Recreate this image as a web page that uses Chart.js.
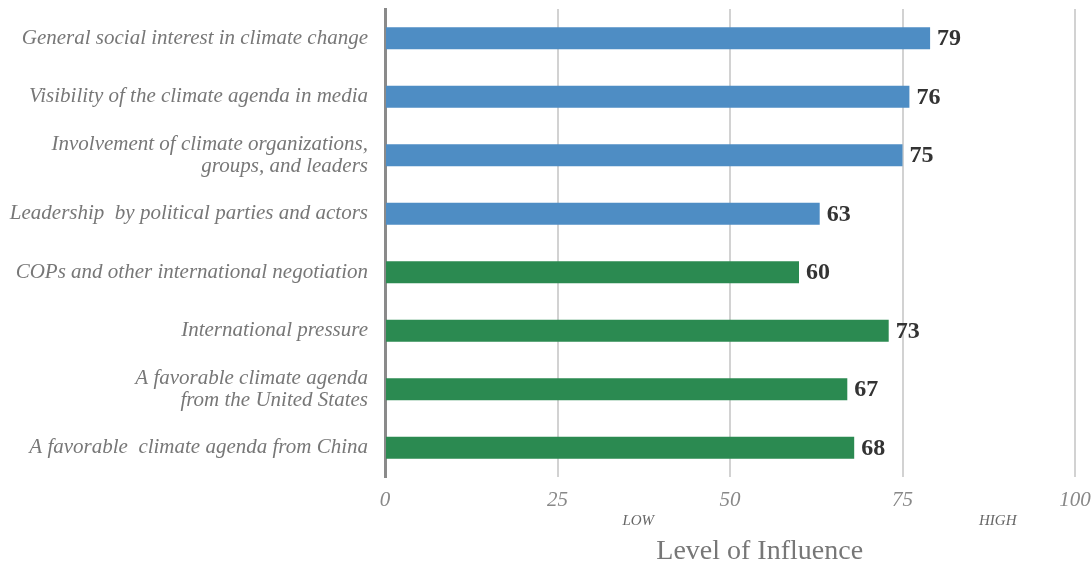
<!DOCTYPE html>
<html>
<head>
<meta charset="utf-8">
<script src="https://cdn.jsdelivr.net/npm/chart.js@4.4.1/dist/chart.umd.min.js"></script>
<style>
  html, body { margin: 0; padding: 0; background: #fff; }
  #wrap { width: 1091px; height: 568px; position: relative; }
</style>
</head>
<body>
<div id="wrap"><canvas id="chart"></canvas></div>
<script>
// --- data ---
const categories = [
    'General social interest in climate change',
    'Visibility of the climate agenda in media',
    ['Involvement of climate organizations,', 'groups, and leaders'],
    'Leadership  by political parties and actors',
    'COPs and other international negotiation',
    'International pressure',
    ['A favorable climate agenda', 'from the United States'],
    'A favorable  climate agenda from China'
];
const influence = [79, 76, 75, 63, 60, 73, 67, 68];
const barColors = ['#4e8dc4', '#4e8dc4', '#4e8dc4', '#4e8dc4', '#2b8a51', '#2b8a51', '#2b8a51', '#2b8a51'];
const xTicks = [0, 25, 50, 75, 100];
const scaleNotes = [{ text: 'LOW', at: 36.7 }, { text: 'HIGH', at: 88.8 }];
const axisTitle = { text: 'Level of Influence', at: 54.3 };

const SERIF = "'Liberation Serif', 'DejaVu Serif', serif";

// value labels at bar ends
const valueLabels = {
    id: 'valueLabels',
    afterDatasetsDraw(chart) {
        const ctx = chart.ctx;
        const meta = chart.getDatasetMeta(0);
        ctx.save();
        ctx.font = "bold 24px " + SERIF;
        ctx.fillStyle = '#333';
        ctx.textAlign = 'left';
        ctx.textBaseline = 'middle';
        meta.data.forEach((bar, i) => {
            ctx.fillText(String(influence[i]), bar.x + 7, bar.y + 1);
        });
        ctx.restore();
    }
};

// LOW / HIGH notes and the axis title under the x ticks
const lowHigh = {
    id: 'lowHigh',
    afterDraw(chart) {
        const ctx = chart.ctx;
        const x = chart.scales.x;
        const bottom = chart.chartArea.bottom;
        ctx.save();
        ctx.textAlign = 'center';
        ctx.textBaseline = 'middle';
        ctx.font = "italic 15px " + SERIF;
        ctx.fillStyle = '#666';
        scaleNotes.forEach(n => {
            ctx.fillText(n.text, x.getPixelForValue(n.at), bottom + 44);
        });
        ctx.font = "28px " + SERIF;
        ctx.fillStyle = '#777';
        ctx.fillText(axisTitle.text, x.getPixelForValue(axisTitle.at), bottom + 75);
        ctx.restore();
    }
};

new Chart(document.getElementById('chart'), {
    type: 'bar',
    data: {
        labels: categories,
        datasets: [{
            data: influence,
            backgroundColor: barColors,
            borderWidth: 0,
            categoryPercentage: 1,
            barPercentage: 0.38
        }]
    },
    options: {
        indexAxis: 'y',
        responsive: true,
        maintainAspectRatio: false,
        animation: false,
        layout: { padding: { top: 9, right: 16, left: 0, bottom: 0 } },
        plugins: { legend: { display: false }, tooltip: { enabled: false } },
        scales: {
            x: {
                min: 0, max: 100,
                afterBuildTicks: s => { s.ticks = xTicks.map(v => ({ value: v })); },
                afterFit: s => { s.height = 91; s.paddingLeft = 0; s.paddingRight = 0; },
                grid: {
                    drawTicks: false,
                    color: ctx => ctx.tick && ctx.tick.value === 0 ? 'rgba(0,0,0,0)' : '#d2d2d2',
                    lineWidth: 2
                },
                border: { display: false },
                ticks: {
                    padding: 11,
                    color: '#888',
                    font: { family: SERIF, size: 21, style: 'italic' }
                }
            },
            y: {
                afterFit: s => { s.width = 385; s.paddingTop = 0; s.paddingBottom = 0; },
                grid: { display: false, drawTicks: false },
                border: { display: true, color: '#8a8a8a', width: 3 },
                ticks: {
                    padding: 17,
                    color: '#777',
                    font: { family: SERIF, size: 21, style: 'italic', lineHeight: 1.05 }
                }
            }
        }
    },
    plugins: [valueLabels, lowHigh]
});
</script>
</body>
</html>
